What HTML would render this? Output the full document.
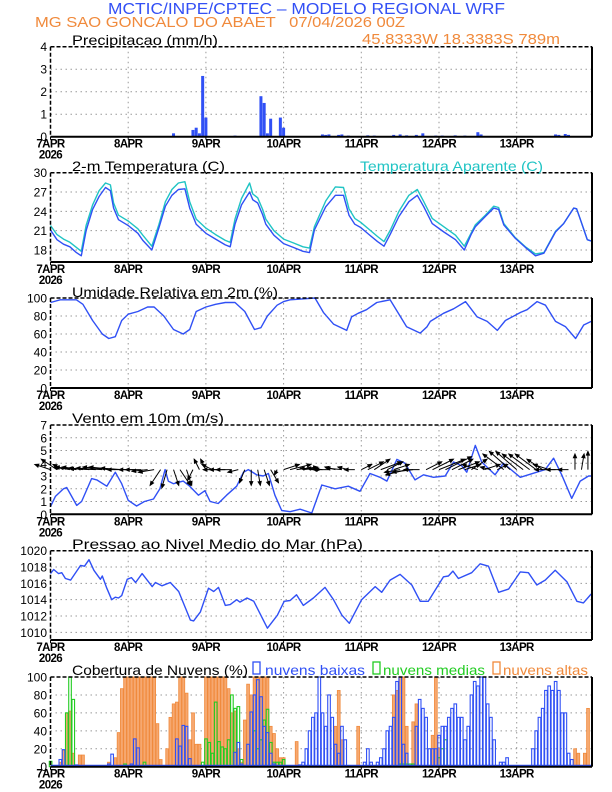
<!DOCTYPE html>
<html><head><meta charset="utf-8"><style>
html,body{margin:0;padding:0;background:#fff;}
svg{display:block;font-family:"Liberation Sans",sans-serif;}
</style></head><body>
<svg id="chart" width="612" height="792" viewBox="0 0 612 792" xmlns="http://www.w3.org/2000/svg">
<rect width="612" height="792" fill="#fff"/>
<text x="108" y="14" font-size="16" fill="#3350f5" textLength="397" lengthAdjust="spacingAndGlyphs">MCTIC/INPE/CPTEC – MODELO REGIONAL WRF</text>
<text x="35" y="27" font-size="15" fill="#f08a3c" textLength="370" lengthAdjust="spacingAndGlyphs" xml:space="preserve">MG SAO GONCALO DO ABAET   07/04/2026 00Z</text>
<text x="362" y="44" font-size="15" fill="#f08a3c" textLength="198" lengthAdjust="spacingAndGlyphs">45.8333W 18.3383S 789m</text>
<g id="g"></g>
</svg>
<script>
// ---------- DATA ----------
const dayLabels = ["7APR","8APR","9APR","10APR","11APR","12APR","13APR"];
const precipHours = [13,38,44,45,46,47,48,52,57,61,62,63,65,66,67,68,71,72,84,85,86,89,90,92,98,100,106,108,110,113,115,119,121,125,128,132,133,156,157,159,160];
const precipValues = [0.02,0.15,0.3,0.4,0.15,2.7,0.85,0.02,0.05,0.02,0.02,0.02,1.8,1.5,0.15,0.8,0.85,0.4,0.1,0.08,0.1,0.08,0.1,0.05,0.06,0.05,0.08,0.1,0.06,0.08,0.15,0.05,0.05,0.06,0.05,0.2,0.1,0.1,0.08,0.12,0.08];
const tempHours = [0,2,4,6,8,9.5,11,13,15,17,18.5,19.5,21,24,27,28.5,31.3,33.5,35.5,37.5,39.5,41.5,43,45,48,51,54,55.5,57,59,61.5,62.5,64,65.5,66.5,69,72,75,78,80,81.5,85,88,90.5,92.2,94,95.8,98.4,101,103,105,107.6,110.7,113.3,115.3,117.9,121.5,125.1,127.8,130,131.2,134.3,136.9,138.4,140,143.6,146.7,149.8,152.4,156,158.5,161.6,162.5,163.5,165.8,167];
const tempValues = [21.1,19.6,18.9,18.5,17.6,17.1,21,24.3,26.3,27.7,27.2,24.5,22.7,21.8,20.6,19.5,18.0,21.5,24.8,26.5,27.4,27.5,24.5,22.0,20.6,19.7,18.8,18.5,22,25,27.0,25.8,25.3,23.5,22,20.3,19.0,18.4,17.8,17.6,21.1,24.7,26.5,26.5,23.4,22,21.5,20.4,19.3,18.6,20.5,23.2,25.5,26.5,24.7,22.1,20.8,19.6,18.0,20.5,21.6,23.2,24.5,24.3,21.9,19.8,18.4,17.1,17.5,20.8,22.1,24.5,24.4,23,19.6,19.4];
const apparentValues = [21.8,20.4,19.7,19.2,18.4,17.8,21.8,25.0,27.2,28.4,28.1,25.3,23.4,22.5,21.3,20.3,18.6,22.0,25.5,27.4,28.4,28.6,25.5,22.8,21.4,20.4,19.5,19.2,22.8,26.0,28.4,26.7,26.1,24.3,22.8,21.0,19.7,19.1,18.5,18.3,21.6,25.6,27.8,27.7,24.4,22.9,22.3,21.2,20.1,19.3,21.1,24.0,26.5,27.4,25.5,22.9,21.6,20.3,18.6,20.7,21.9,23.4,24.8,24.6,22.1,19.9,18.5,17.4,17.6,20.9,22.1,24.5,24.4,23,19.6,19.4];
const rhHours = [0,3,8,10,13,16,18,20,22,24,27,30,32,35,38,41,43,45,48,51,54,57,60,63,65,67,70,72,74,81.7,84.3,87.4,91.5,93,95,97.6,100.8,104.9,110,114.2,116.3,117.3,121.4,124.5,128.2,131.8,134.9,138,140.5,145.2,147.2,150.3,152.9,156,159.1,162.2,164.7,167];
const rhValues = [95,98,98,93,75,60,55,57,75,82,85,90,90,80,65,60,65,85,90,93,95,95,85,65,67,80,92,96,98,100,84,71,64,79,83,87,95,98,68,61,68,74,83,88,96,79,74,64,75,84,87,96,92,74,68,55,70,74];
const windHours = [0,1.5,4,5,8.1,9.6,12.7,14.3,17.4,20,22,24,26.6,29,31.8,33.8,35.4,36.4,38,41,43,45.7,47.7,49.3,51.8,54.4,57.5,59.6,61.1,63.7,65.7,67.3,69.3,71.4,74,77.1,80.7,83.8,87.9,92,95.6,98.7,101.8,103.9,107,109.5,112.6,115.2,118.3,121.9,124.5,127,128.6,131.2,133.2,137.3,139.9,145.1,150.2,152.8,155.4,157.9,161,163.6,166.2,167];
const windSpeed = [0.6,1.4,2.0,2.1,0.7,1.0,2.8,2.7,2.2,3.3,2.4,1.1,0.65,1.0,1.2,2.0,3.5,2.6,2.4,2.6,2.2,1.5,1.85,1.0,0.85,1.5,2.2,3.3,3.5,3.1,3.0,3.2,1.5,0.3,0.2,0.4,0.1,2.3,2.0,2.2,1.8,3.2,2.9,2.6,4.3,4.0,2.7,3.1,2.9,3.0,4.1,3.8,3.3,5.4,4.1,3.1,4.0,2.9,3.3,3.5,4.4,3.1,1.25,2.6,3.0,3.0];
const windU = [-3,-3,-2,-3,-4, -4,-4,-5,-5,-5,-5,-4,-4,-3,-3,-3,-3, -2,-1,1,2,1,-1, -1,-1,-2,-3, -3,-3,-2, -1,0,0.5,1,1.5,-0.5, 3,4,4,3,2, -3,-3,-3,-2,-3,-2,-2, 2,3,3,4,3,3, -3,-4,-4,-3, 3,4,5,5,4,4,3, 3,-3,3,-2,2, -4,-4,-4,-4,-4,-4,-3,-3, -4,-3,-2, 0,0.5,0];
const windV = [1,2,1,0.5,0.5, 0.5,0.3,0.2,0.3,0.5,0.5,0.3,0,0,0,-0.3,-0.5, -3,-3.5,-3,-3,-3,-2, 2,2,1,0, 0,0,-0.5, -2.5,-3,-3,-3,-2.5,-1, 1,1,0.5,0.3,0, 0.3,0.3,0,0.5,0.3,0.5,0, 1,1.5,2,1.5,1.5,1, -0.5,-1,-0.5,0, 1.5,2,2,2.5,2,1.5,1, 2,1,1,0.5,1, 3,3.5,3.5,3,3,3,2,1, 0,0,0, 3,3,3.5];
const presHours = [0,1,2.5,3.5,4.6,6.2,9.3,10.5,11.9,13.4,15.4,16,17.4,18.9,20,21,22,23.7,25,26.3,28.3,31.4,32.4,34.4,37,39.6,43.2,44.2,46.3,48.8,50.4,51.9,54,55.5,57.5,58.5,60.7,62.8,67,70.1,72.2,74,76,78.1,81.2,84.8,87.4,90,92.3,96.1,100.3,102.3,104.9,108,111.6,114.2,116.7,121.4,122.9,124.3,126,130.1,132.7,135.3,138.4,141.5,145.1,147.6,150.2,152.8,155.9,159.5,162.6,164.6,167];
const presValues = [1017.2,1017.7,1017.2,1017.3,1016.6,1016.4,1018.2,1018.1,1018.9,1017.6,1016.5,1016.9,1015.4,1014.0,1014.3,1014.2,1014.5,1016.5,1016.7,1016.1,1017.2,1015.6,1016.1,1015.7,1016.1,1015.0,1011.5,1011.4,1012.5,1015.4,1015.0,1015.5,1013.3,1013.4,1014.0,1013.7,1014.2,1013.8,1010.5,1012.1,1013.8,1013.9,1014.6,1013.3,1014.2,1015.5,1014.0,1012.1,1011.1,1014.0,1015.6,1014.9,1016.4,1017.1,1015.8,1013.8,1013.8,1016.8,1016.9,1017.5,1016.6,1017.3,1018.4,1018.1,1014.9,1015.3,1017.4,1017.3,1015.8,1016.4,1017.6,1016.2,1013.8,1013.6,1014.7];
const cloudLow = [0,0,0,8,19,0,0,1,2,0,0,0,0,0,0,0,0,0,3,14,0,0,0,0,
 0,3,31,21,0,0,0,0,0,0,0,0,0,0,0,31,23,46,45,9,0,0,0,0,
 0,0,0,0,0,0,0,0,0,16,27,3,0,25,61,80,97,78,45,38,15,3,0,0,
 0,0,0,0,0,2,5,20,40,55,60,100,60,45,80,55,25,15,45,30,0,0,0,0,
 0,5,20,5,0,5,10,20,40,45,55,95,100,25,15,0,0,45,75,65,55,20,20,20,
 35,45,45,55,65,70,55,55,30,45,80,95,90,100,100,70,55,30,0,5,5,10,0,0,
 0,0,0,0,0,20,40,55,65,85,90,85,95,85,60,60,15,8,0,0,0,0,0,0];
const cloudMid = [6,0,0,0,0,60,100,75,0,0,0,0,0,0,0,0,0,0,0,0,0,0,0,3,
 0,0,0,0,0,5,0,0,0,0,0,0,0,0,0,0,0,0,0,0,0,0,0,5,
 31,27,15,72,28,22,20,30,80,65,67,8,0,0,0,40,20,30,52,64,27,5,5,5,
 8,0,0,0,0,0,0,0,0,0,0,0,0,0,0,0,0,0,0,0,0,0,0,0,
 0,0,0,0,0,0,0,0,0,0,0,0,3,3,3,3,3,0,0,0,0,0,0,0,
 10,20,30,0,0,0,0,0,0,0,0,0,0,0,0,0,0,0,0,0,0,0,0,0,
 0,0,0,0,0,0,0,0,0,0,0,0,0,0,0,0,0,0,0,0,0,0,0,0];
const cloudHigh = [0,0,0,5,18,60,62,15,0,13,13,0,0,0,0,0,0,0,5,0,10,38,87,100,
 100,100,100,100,100,100,100,100,100,48,8,0,20,55,70,72,100,100,82,30,60,25,25,0,
 100,100,100,100,100,100,100,87,60,62,20,5,52,92,80,100,100,100,100,100,45,37,20,10,
 10,0,0,0,28,0,0,0,0,0,0,0,0,0,0,0,45,85,30,0,0,0,0,45,
 0,0,0,0,0,0,0,0,0,0,80,85,100,100,45,0,50,70,0,0,0,0,35,100,
 20,0,0,0,0,0,0,0,0,0,0,0,0,0,0,0,0,0,0,0,0,0,0,0,
 0,0,0,0,0,0,0,0,0,0,0,0,0,0,0,0,0,0,20,15,0,15,65,0];

// ---------- RENDER ----------
const NS="http://www.w3.org/2000/svg";
const g=document.getElementById('g');
const X0=50.5, XR=592, PXH=3.2375;
const BLUE="#3050f5", CYAN="#20c4c4", ORANGE="#f08a3c", GREEN="#22cc22";
function xh(h){return X0+h*PXH;}
function el(tag,attrs,parent){const e=document.createElementNS(NS,tag);for(const k in attrs)e.setAttribute(k,attrs[k]);(parent||g).appendChild(e);return e;}
function yScale(p){return v=>p.bottom-(v-p.min)/(p.max-p.min)*(p.bottom-p.top);}

const panels=[
 {name:'precip',top:46.7,bottom:136.7,min:0,max:4,ticks:[0,1,2,3,4]},
 {name:'temperature',top:172.7,bottom:262,min:16.14,max:30,ticks:[18,21,24,27,30]},
 {name:'humidity',top:298,bottom:388,min:0,max:100,ticks:[0,20,40,60,80,100]},
 {name:'wind',top:425,bottom:514.3,min:0,max:7,ticks:[0,1,2,3,4,5,6,7]},
 {name:'pressure',top:550.7,bottom:640,min:1009.06,max:1020,ticks:[1010,1012,1014,1016,1018,1020]},
 {name:'clouds',top:677,bottom:766.7,min:0,max:100,ticks:[0,20,40,60,80,100]}
];
panels.forEach(p=>{
 p.y=yScale(p);
 // grid
 for(let d=1;d<7;d++){const l=el('line',{x1:xh(24*d),x2:xh(24*d),y1:p.top,y2:p.bottom,stroke:'#999','stroke-width':1,'stroke-dasharray':'1.5,3.5'});
  
  }
 p.ticks.forEach(t=>{const yy=p.y(t);
  if(yy>p.top+1&&yy<p.bottom-1){const l=el('line',{x1:X0,x2:XR,y1:yy,y2:yy,stroke:'#999','stroke-width':1,'stroke-dasharray':'1.5,3.5'});
   
   }
  const tx=el('text',{x:47,y:yy+4.5,'font-size':12,'text-anchor':'end',fill:'#000'});tx.textContent=t;
  
  
 });
 dayLabels.forEach((lab,d)=>{const tx=el('text',{x:xh(24*d),y:p.bottom+11,'font-size':11.5,'font-weight':'bold','text-anchor':'middle',fill:'#000','letter-spacing':'-0.6'});tx.textContent=lab;
  
  });
 const yr=el('text',{x:xh(0),y:p.bottom+22,'font-size':11.5,'font-weight':'bold','text-anchor':'middle',fill:'#000','letter-spacing':'-0.6'});yr.textContent='2026';
 
 
 p.plot=el('g',{});
 
 
});
function frame(p){
 const f=el('g',{});
 
 
 el('line',{x1:X0,x2:XR,y1:p.top,y2:p.top,stroke:'#000','stroke-width':1.5,'stroke-dasharray':'4,2'},f);
 el('line',{x1:X0,x2:X0,y1:p.top,y2:p.bottom,stroke:'#000','stroke-width':1.5,'stroke-dasharray':'4,2'},f);
 el('line',{x1:XR,x2:XR,y1:p.top,y2:p.bottom,stroke:'#000','stroke-width':2},f);
 el('line',{x1:X0,x2:XR,y1:p.bottom,y2:p.bottom,stroke:'#000','stroke-width':2},f);
 for(let d=0;d<7;d++)el('line',{x1:xh(24*d),x2:xh(24*d),y1:p.bottom,y2:p.bottom+3,stroke:'#000','stroke-width':1},f);
}
function line(p,hours,vals,color,name){
 const pts=hours.map((h,i)=>xh(h).toFixed(1)+','+p.y(vals[i]).toFixed(1)).join(' ');
 const l=el('polyline',{points:pts,fill:'none',stroke:color,'stroke-width':1.4,'stroke-linejoin':'round'},p.plot);
 
 
}
// precipitation
{const p=panels[0];
 precipHours.forEach((h,i)=>{const y=p.y(precipValues[i]);
  const r=el('rect',{x:xh(h)-1.5,y:y,width:3,height:Math.max(0.6,p.bottom-y),fill:BLUE},p.plot);
  
  });
 frame(p);}
// temperature
{const p=panels[1];
 line(p,tempHours,apparentValues,CYAN,'apparent-temperature-line');
 line(p,tempHours,tempValues,BLUE,'temperature-line');
 frame(p);}
// humidity
{const p=panels[2]; line(p,rhHours,rhValues,BLUE,'humidity-line'); frame(p);}
// wind
{const p=panels[3];
 line(p,windHours,windSpeed,BLUE,'wind-speed-line');
 const by=p.y(3.5), S=5.2;
 windU.forEach((u,i)=>{const x1=xh(i*2),y1=by,x2=x1+u*S,y2=y1-windV[i]*S;
  const a=Math.atan2(y2-y1,x2-x1),hl=4;
  const grp=el('g',{stroke:'#000','stroke-width':1,fill:'#000'},p.plot);
  
  
  el('line',{x1:x1,y1:y1,x2:x2,y2:y2},grp);
  el('polygon',{points:`${x2},${y2} ${x2-hl*Math.cos(a-0.4)},${y2-hl*Math.sin(a-0.4)} ${x2-hl*Math.cos(a+0.4)},${y2-hl*Math.sin(a+0.4)}`},grp);
 });
 frame(p);}
// pressure
{const p=panels[4]; line(p,presHours,presValues,BLUE,'pressure-line'); frame(p);}
// clouds
{const p=panels[5];
 cloudHigh.forEach((v,h)=>{if(v<=0)return;const y=p.y(v);
  const r=el('rect',{x:xh(h)-1.3,y:y,width:2.8,height:p.bottom-y,fill:'#f6a870',stroke:ORANGE,'stroke-width':0.8},p.plot);
  
  });
 cloudMid.forEach((v,h)=>{if(v<=0)return;const y=p.y(v);
  const r=el('rect',{x:xh(h)-1.2,y:y,width:2.6,height:p.bottom-y,fill:'none',stroke:GREEN,'stroke-width':1.1},p.plot);
  
  });
 cloudLow.forEach((v,h)=>{if(v<=0)return;const y=p.y(v);
  const r=el('rect',{x:xh(h)-1.2,y:y,width:2.6,height:p.bottom-y,fill:'none',stroke:BLUE,'stroke-width':1.1},p.plot);
  
  });
 const bl=el('line',{x1:X0,x2:XR,y1:p.bottom-1,y2:p.bottom-1,stroke:BLUE,'stroke-width':2},p.plot);
 
 
 frame(p);}
// titles
const titles=[
 ['Precipitacao (mm/h)',72,45,146,'#000','precip-title'],
 ['2-m Temperatura (C)',72,171,153,'#000','temperature-title'],
 ['Temperatura Aparente (C)',360,171,183,CYAN,'apparent-temperature-title'],
 ['Umidade Relativa em 2m (%)',72,297,206,'#000','humidity-title'],
 ['Vento em 10m (m/s)',72,423,152,'#000','wind-title'],
 ['Pressao ao Nivel Medio do Mar (hPa)',72,549,291,'#000','pressure-title'],
 ['Cobertura de Nuvens (%)',72,675,176,'#000','clouds-title'],
 ['nuvens baixas',265,675,100,BLUE,'legend-low-clouds'],
 ['nuvens medias',383,675,102,GREEN,'legend-mid-clouds'],
 ['nuvens altas',503,675,85,ORANGE,'legend-high-clouds']
];
titles.forEach(t=>{const tx=el('text',{x:t[1],y:t[2],'font-size':14,fill:t[4],textLength:t[3],lengthAdjust:'spacingAndGlyphs'});tx.textContent=t[0];
 
 });
[[253,BLUE,'legend-low-swatch'],[373,GREEN,'legend-mid-swatch'],[493,ORANGE,'legend-high-swatch']].forEach(s=>{
 const r=el('rect',{x:s[0],y:662,width:7,height:12,fill:'none',stroke:s[1],'stroke-width':1.3});
 
 });
</script>
</body></html>
